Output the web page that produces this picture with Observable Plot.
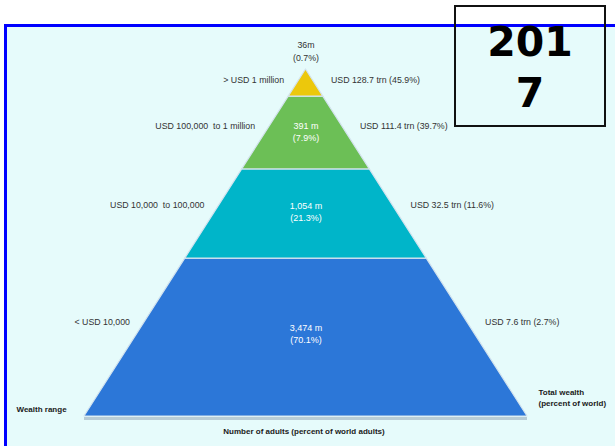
<!DOCTYPE html>
<html>
<head>
<meta charset="utf-8">
<script src="https://cdn.jsdelivr.net/npm/d3@7"></script>
<script src="https://cdn.jsdelivr.net/npm/@observablehq/plot@0.6"></script>
<style>
  html, body { margin: 0; padding: 0; background: #ffffff; width: 615px; height: 446px; overflow: hidden; }
  #frame { position: absolute; left: 4px; top: 24px; width: 720px; height: 520px; border: 3px solid #0000ff; background: #e6fbfb; }
  #chart { position: absolute; left: 0; top: 0; width: 615px; height: 446px; }
  #year { position: absolute; left: 454px; top: 5px; width: 152px; height: 122px; box-sizing: border-box;
          border: 2px solid #111; padding: 10px 22px 0 22px; text-align: center; word-break: break-all;
          font-family: "DejaVu Sans", sans-serif; font-weight: bold; font-size: 41px; line-height: 51px; color: #000; }
</style>
</head>
<body>
<div id="frame"></div>
<div id="chart"></div>
<div id="year">2017</div>
<script>
// ---- data (bottom tier first) ----
const wealthRanges = ["< USD 10,000", "USD 10,000  to 100,000", "USD 100,000  to 1 million", "> USD 1 million"];
const adultsMillions = [3474, 1054, 391, 36];
const adultsPercent = [70.1, 21.3, 7.9, 0.7];
const wealthTrn = [7.6, 32.5, 111.4, 128.7];
const wealthPercent = [2.7, 11.6, 39.7, 45.9];
const tierColors = ["#2c77d8", "#00b5c9", "#6cbf56", "#ecc80c"];

// ---- layout of the pyramid (normalised height of each tier boundary, 0 = base, 1 = apex) ----
const tierBreaks = [0, 0.455, 0.712, 0.922, 1];

const fmt = d3.format(",");
const tiers = wealthRanges.map((r, i) => ({
  range: r, adults: adultsMillions[i], adultsPct: adultsPercent[i],
  wealth: wealthTrn[i], wealthPct: wealthPercent[i], color: tierColors[i],
  b0: tierBreaks[i], b1: tierBreaks[i + 1]
}));

// trapezoid outlines
const shapes = tiers.flatMap((t, i) => [
  {tier: i, y: t.b0, x1: -(1 - t.b0), x2: 1 - t.b0, color: t.color},
  {tier: i, y: t.b1, x1: -(1 - t.b1), x2: 1 - t.b1, color: t.color}
]);

const sideLabels = tiers.map(t => {
  const y = t.b0 + 0.6 * (t.b1 - t.b0);
  return {...t, ys: y, hw: 1 - y};
});
const innerLabels = tiers.slice(0, 3).map(t => ({...t, yc: t.b0 + 0.53 * (t.b1 - t.b0)}));
const apexLabels = tiers.slice(3);

const plot = Plot.plot({
  width: 615, height: 446,
  marginLeft: 84, marginRight: 88, marginTop: 69, marginBottom: 30,
  x: {domain: [-1, 1], axis: null},
  y: {domain: [0, 1], axis: null},
  style: {background: "transparent", fontFamily: "'Liberation Sans', Arial, sans-serif", fontSize: "8.8px", overflow: "visible"},
  marks: [
    Plot.ruleY([0], {x1: -1, x2: 1, stroke: "#7f93a8", strokeOpacity: 0.45, strokeWidth: 3, dy: 2}),
    Plot.areaX(shapes, {y: "y", x1: "x1", x2: "x2", z: "tier", fill: "color", stroke: "#d3e3ee", strokeWidth: 1.2, curve: "linear"}),
    // left: wealth range
    Plot.text(sideLabels, {x: d => -d.hw, y: "ys", text: "range", textAnchor: "end", dx: -15, fill: "#333"}),
    // right: total wealth
    Plot.text(sideLabels, {x: d => d.hw, y: "ys", text: d => `USD ${d.wealth} trn (${d.wealthPct}%)`, textAnchor: "start", dx: 18, fill: "#333"}),
    // inside: adults
    Plot.text(innerLabels, {x: 0, y: "yc", text: d => `${fmt(d.adults)} m\n(${d.adultsPct}%)`, fill: "white", lineHeight: 1.35, fontSize: 9}),
    // top tier adults above apex
    Plot.text(apexLabels, {x: 0, y: "b1", text: d => `${fmt(d.adults)}m\n(${d.adultsPct}%)`, fill: "#333", lineHeight: 1.45, dy: -19}),
    // axis titles
    Plot.text(["Wealth range"], {frameAnchor: "bottom-left", textAnchor: "start", dx: -68, dy: -5, fontWeight: "bold", fontSize: 8, fill: "#1a1a1a"}),
    Plot.text(["Total wealth\n(percent of world)"], {frameAnchor: "bottom-right", textAnchor: "start", dx: 11, dy: -10.5, lineHeight: 1.35, fontWeight: "bold", fontSize: 8, fill: "#1a1a1a"}),
    Plot.text(["Number of adults (percent of world adults)"], {frameAnchor: "bottom", dx: -2, dy: 17, fontWeight: "bold", fontSize: 8, fill: "#1a1a1a"})
  ]
});
document.getElementById("chart").appendChild(plot);
</script>
</body>
</html>
